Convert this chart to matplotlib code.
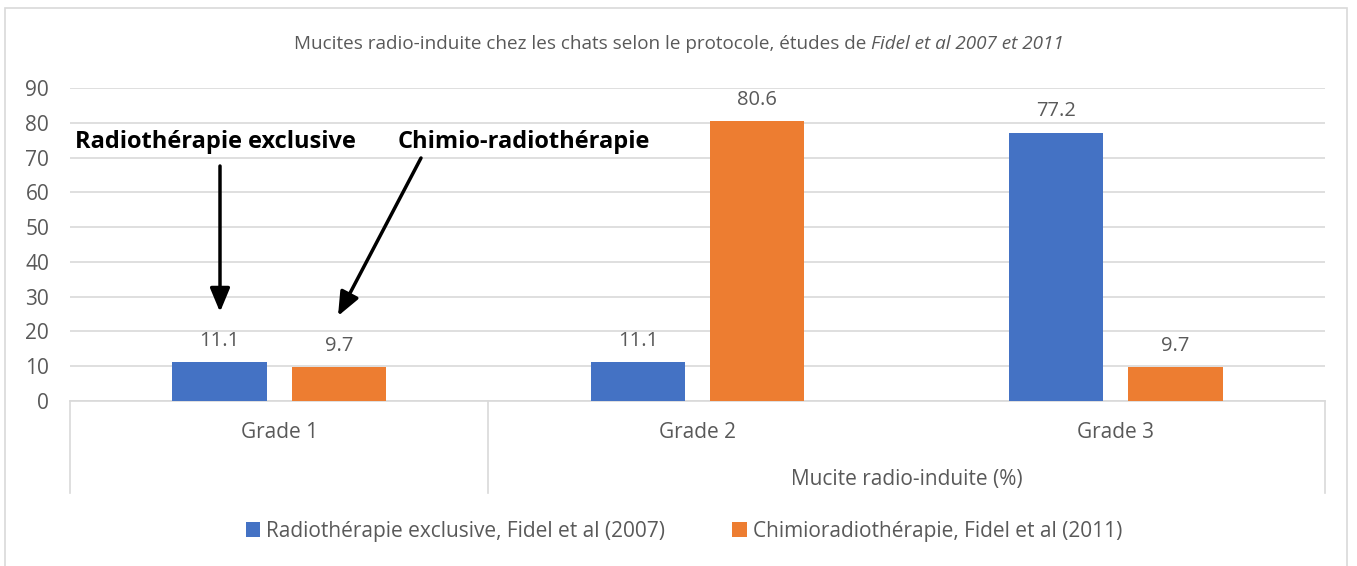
import matplotlib
matplotlib.use("Agg")
import matplotlib.pyplot as plt
import numpy as np
from matplotlib.patches import Rectangle, FancyArrowPatch
from matplotlib.lines import Line2D
import matplotlib.transforms as mtransforms

plt.rcParams['font.family'] = ['Open Sans', 'DejaVu Sans']

grades = ["Grade 1", "Grade 2", "Grade 3"]
group_label = "Mucite radio-induite (%)"
series_names = ["Radiothérapie exclusive, Fidel et al (2007)",
                "Chimioradiothérapie, Fidel et al (2011)"]
radio_only = [11.1, 11.1, 77.2]
chemo_radio = [9.7, 80.6, 9.7]
y_ticks = [0, 10, 20, 30, 40, 50, 60, 70, 80, 90]
title_plain = "Mucites radio-induite chez les chats selon le protocole, études de "
title_italic = "Fidel et al 2007 et 2011"

BLUE = "#4472C4"
ORANGE = "#ED7D31"
TXT = "#595959"
GRID = "#D9D9D9"

W, H = 1357, 566
fig = plt.figure(figsize=(W / 100, H / 100), dpi=100)
fig.patch.set_facecolor("white")
fig.patches.append(Rectangle((5 / W, -0.01), 1342 / W, 1 - 8 / H + 0.01,
                             transform=fig.transFigure, fill=False,
                             edgecolor=GRID, linewidth=1.2))

ax = fig.add_axes([70 / W, 1 - 401 / H, 1255 / W, 313 / H])
x = np.arange(len(grades))
w = 0.225
off = 0.1425
b1 = ax.bar(x - off, radio_only, w, color=BLUE, label=series_names[0], zorder=3)
b2 = ax.bar(x + off, chemo_radio, w, color=ORANGE, label=series_names[1], zorder=3)

for bars, vals in ((b1, radio_only), (b2, chemo_radio)):
    for r, v in zip(bars, vals):
        ax.annotate(f"{v:.1f}", (r.get_x() + r.get_width() / 2, v),
                    xytext=(0, 8), textcoords="offset points",
                    ha="center", va="bottom", fontsize=14.5, color=TXT)

ax.set_xlim(-0.5, 2.5)
ax.set_ylim(0, 90)
ax.set_yticks(y_ticks)
ax.set_yticklabels([str(t) for t in y_ticks], fontsize=15, color=TXT)
ax.tick_params(axis="y", length=0, pad=15)
ax.set_xticks([])
ax.yaxis.grid(True, color=GRID, linewidth=1.2, zorder=0)
for s in ("top", "right", "left"):
    ax.spines[s].set_visible(False)
ax.spines["bottom"].set_color(GRID)
ax.spines["bottom"].set_linewidth(1.2)

# two-level category axis
trans = mtransforms.blended_transform_factory(ax.transData, ax.transAxes)
depth = -(493 - 401) / 313
for xb in (-0.5, 0.5, 2.5):
    ax.add_line(Line2D([xb, xb], [0, depth], transform=trans, color=GRID,
                       linewidth=1.2, clip_on=False))
for xi, g in zip(x, grades):
    ax.text(xi, -(433 - 401) / 313, g, transform=trans, ha="center", va="center",
            fontsize=15, color=TXT)
ax.text(1.5, -(479 - 401) / 313, group_label, transform=trans, ha="center",
        va="center", fontsize=15, color=TXT)

# title: plain part followed by italic part, centred as a whole
renderer = fig.canvas.get_renderer()
t1 = fig.text(0, 1 - 44 / H, title_plain, ha="left", va="center",
              fontsize=13.6, color=TXT)
t2 = fig.text(0, 1 - 44 / H, title_italic, ha="left", va="center",
              fontsize=13.6, color=TXT, style="italic")
w1 = t1.get_window_extent(renderer).width
w2 = t2.get_window_extent(renderer).width
x0 = (678.5 - (w1 + w2) / 2)
t1.set_x(x0 / W)
t2.set_x((x0 + w1) / W)

fig.legend(handles=[b1, b2], loc="center", bbox_to_anchor=(684 / W, 1 - 531 / H),
           ncol=2, frameon=False, fontsize=15, labelcolor=TXT,
           handlelength=0.7, handleheight=0.7, handletextpad=0.3,
           columnspacing=3.2)

# callouts
fig.text(75 / W, 1 - 142 / H, "Radiothérapie exclusive", fontsize=17,
         fontweight="bold", color="black", ha="left", va="center")
fig.text(398 / W, 1 - 142 / H, "Chimio-radiothérapie", fontsize=17,
         fontweight="bold", color="black", ha="left", va="center")
arrow_kw = dict(arrowstyle="-|>,head_width=0.5,head_length=1.2", color="black",
                linewidth=2.5, shrinkA=0, shrinkB=0)
fig.add_artist(FancyArrowPatch((220 / W, 1 - 166 / H), (220 / W, 1 - 312 / H),
                               transform=fig.transFigure, mutation_scale=12,
                               **arrow_kw))
fig.add_artist(FancyArrowPatch((421 / W, 1 - 158 / H), (338 / W, 1 - 316 / H),
                               transform=fig.transFigure, mutation_scale=12,
                               **arrow_kw))

fig.savefig("out.png", dpi=100)
